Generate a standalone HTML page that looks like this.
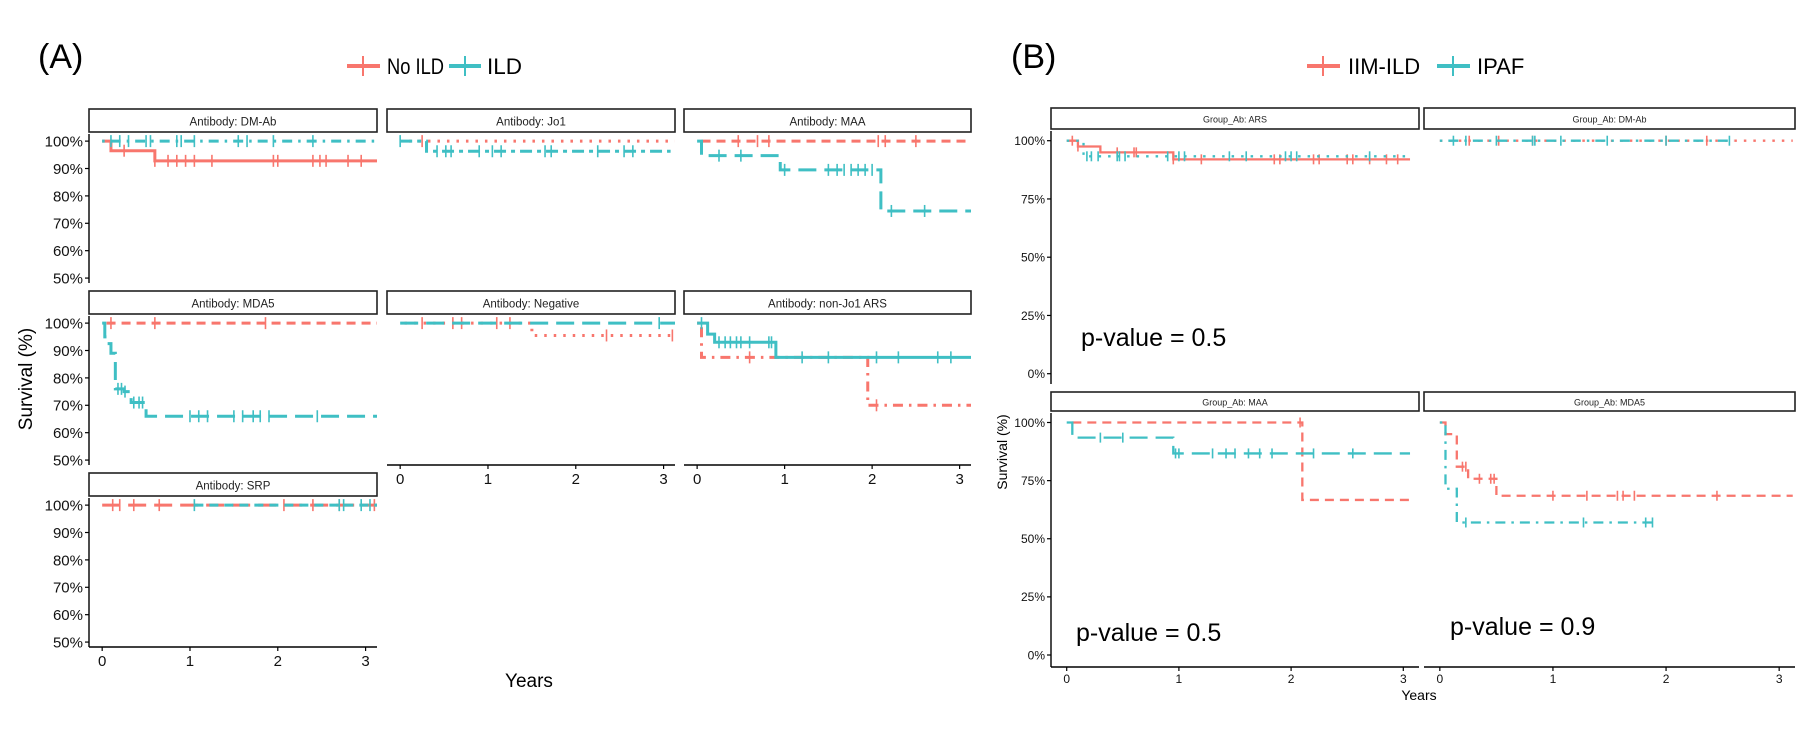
<!DOCTYPE html>
<html><head><meta charset="utf-8"><style>
html,body{margin:0;padding:0;background:#fff;}
svg{display:block;font-family:"Liberation Sans",Arial,sans-serif;}
</style></head><body>
<svg id="chart" width="1820" height="756" viewBox="0 0 1820 756" xmlns="http://www.w3.org/2000/svg">
<text x="38" y="68" font-size="34">(A)</text>
<text x="1011" y="68" font-size="34">(B)</text>
<g>
<line x1="347" y1="66" x2="380" y2="66" stroke="#F8766D" stroke-width="4"/><line x1="363" y1="56" x2="363" y2="76" stroke="#F8766D" stroke-width="2"/>
<text x="387" y="74" font-size="22" textLength="57" lengthAdjust="spacingAndGlyphs">No ILD</text>
<line x1="449" y1="66" x2="481" y2="66" stroke="#3FBFC4" stroke-width="4"/><line x1="465" y1="56" x2="465" y2="76" stroke="#3FBFC4" stroke-width="2"/>
<text x="487" y="74" font-size="22" textLength="35" lengthAdjust="spacingAndGlyphs">ILD</text>
</g>
<g>
<line x1="1307" y1="66" x2="1340" y2="66" stroke="#F8766D" stroke-width="4"/><line x1="1323" y1="56" x2="1323" y2="76" stroke="#F8766D" stroke-width="2"/>
<text x="1348" y="74" font-size="22">IIM-ILD</text>
<line x1="1437" y1="66" x2="1470" y2="66" stroke="#3FBFC4" stroke-width="4"/><line x1="1453" y1="56" x2="1453" y2="76" stroke="#3FBFC4" stroke-width="2"/>
<text x="1477" y="74" font-size="22">IPAF</text>
</g>
<text x="529" y="687" font-size="19" text-anchor="middle">Years</text>
<text transform="translate(32,379) rotate(-90)" font-size="19" text-anchor="middle">Survival (%)</text>
<text x="1419" y="700" font-size="14" text-anchor="middle">Years</text>
<text transform="translate(1007,452) rotate(-90)" font-size="14" text-anchor="middle">Survival (%)</text>
<text x="1081" y="346" font-size="25">p-value = 0.5</text>
<text x="1076" y="641" font-size="25">p-value = 0.5</text>
<text x="1450" y="635" font-size="25">p-value = 0.9</text>
</svg>
<script>
const aTicksY = [50,60,70,80,90,100];
const aTicksYLabels = ["50%","60%","70%","80%","90%","100%"];
const bTicksY = [0,25,50,75,100];
const bTicksYLabels = ["0%","25%","50%","75%","100%"];
const ticksX = [0,1,2,3];

const dmRedT=[0,0.1,0.6], dmRedS=[100,96.5,92.8], dmRedC=[0.25,0.6,0.75,0.85,0.95,1.05,1.25,1.95,2.0,2.4,2.48,2.55,2.8,2.95], dmRedE=3.13;
const dmTealT=[0], dmTealS=[100], dmTealC=[0.1,0.2,0.3,0.5,0.55,0.85,0.9,1.05,1.55,1.65,1.95,2.4], dmTealE=3.13;
const jo1RedT=[0.1], jo1RedS=[100], jo1RedC=[0.25], jo1RedE=3.13;
const jo1TealT=[0,0.3], jo1TealS=[100,96.3], jo1TealC=[0.0,0.42,0.52,0.58,0.9,1.05,1.15,1.65,1.72,2.25,2.55,2.65], jo1TealE=3.08;
const maaRedT=[0.05], maaRedS=[100], maaRedC=[0.47,0.69,0.82,2.07,2.15,2.5], maaRedE=3.13;
const maaTealT=[0,0.05,0.95,2.1], maaTealS=[100,94.7,89.5,74.5], maaTealC=[0.25,0.5,1.0,1.5,1.6,1.68,1.76,1.84,1.92,2.0,2.22,2.6], maaTealE=3.13;
const mdaRedT=[0.05], mdaRedS=[100], mdaRedC=[0.1,0.6,1.86], mdaRedE=3.13;
const mdaTealT=[0,0.03,0.06,0.1,0.15,0.25,0.33,0.5], mdaTealS=[100,95,92.5,89,76,75,71,66], mdaTealC=[0.18,0.22,0.26,0.36,0.42,0.46,1.0,1.1,1.2,1.5,1.6,1.72,1.8,1.9,2.45], mdaTealE=3.13;
const negRedT=[0.05,1.5], negRedS=[100,95.5], negRedC=[0.25,0.6,0.7,1.1,1.25,2.35,3.1], negRedE=3.13;
const negTealT=[0], negTealS=[100], negTealC=[2.95], negTealE=3.13;
const arsRedT=[0,0.05,1.95], arsRedS=[100,87.5,70], arsRedC=[0.6,2.05], arsRedE=3.13;
const arsTealT=[0,0.12,0.2,0.9], arsTealS=[100,96,93,87.5], arsTealC=[0.05,0.25,0.32,0.38,0.45,0.5,0.6,0.82,0.85,1.2,1.5,2.05,2.3,2.75,2.9], arsTealE=3.13;
const srpRedT=[0], srpRedS=[100], srpRedC=[0.12,0.2,0.36,0.65,2.07,2.4,2.7,3.1], srpRedE=3.13;
const srpTealT=[1.05], srpTealS=[100], srpTealC=[1.05,2.7,2.75,2.95,3.05], srpTealE=3.13;

const bArsRedT=[0,0.1,0.3,0.95], bArsRedS=[100,97.5,95,92], bArsRedC=[0.05,0.1,0.45,0.6,0.62,0.95,1.2,1.85,1.9,2.2,2.25,2.5,2.55,2.7,2.85,2.95], bArsRedE=3.06;
const bArsTealT=[0,0.15], bArsTealS=[100,93.3], bArsTealC=[0.18,0.22,0.28,0.45,0.47,0.52,0.9,1.0,1.05,1.45,1.6,1.95,2.0,2.05,2.7], bArsTealE=3.06;
const bDmRedT=[0], bDmRedS=[100], bDmRedC=[0.26,0.52,0.82,2.0,2.36], bDmRedE=3.12;
const bDmTealT=[0], bDmTealS=[100], bDmTealC=[0.12,0.23,0.5,0.82,0.84,1.07,1.48,2.0,2.56], bDmTealE=2.6;
const bMaaRedT=[0.05,2.1], bMaaRedS=[100,66.7], bMaaRedC=[2.08], bMaaRedE=3.06;
const bMaaTealT=[0,0.05,0.95], bMaaTealS=[100,93.5,86.7], bMaaTealC=[0.3,0.5,0.97,1.0,1.3,1.42,1.5,1.62,1.72,1.83,2.2,2.55], bMaaTealE=3.06;
const bMdaRedT=[0,0.05,0.15,0.25,0.5], bMdaRedS=[100,95,81,75.8,68.5], bMdaRedC=[0.2,0.23,0.35,0.45,0.48,1.0,1.3,1.57,1.62,1.72,2.45], bMdaRedE=3.12;
const bMdaTealT=[0,0.05,0.15], bMdaTealS=[100,71.5,57], bMdaTealC=[0.23,1.27,1.82,1.88], bMdaTealE=1.92;

const RED="#F8766D", TEAL="#3FBFC4";
const DASH={solid:"",dashed:"9,6",dotted:"2.5,7",dashdot:"2.5,6,10,6",longdash:"18,8",twodash:"12,5,4,5"};
const svg=document.getElementById('chart');
const NS="http://www.w3.org/2000/svg";
function mk(tag,attrs,parent){const e=document.createElementNS(NS,tag);for(const k in attrs)e.setAttribute(k,attrs[k]);(parent||svg).appendChild(e);return e;}

function panel(o){
  const g=mk('g',{});
  
  
  const sx=t=>o.x0+(t-o.xmin)/(o.xmax-o.xmin)*(o.x1-o.x0);
  const sy=v=>o.y1-(v-o.ymin)/(o.ymax-o.ymin)*(o.y1-o.y0);
  const st=mk('rect',{x:o.x0,y:o.sy0,width:o.x1-o.x0,height:o.y0-o.sy0-2,fill:"#fff",stroke:"#222","stroke-width":1.6},g);
  
  
  const stt=mk('text',{x:(o.x0+o.x1)/2,y:(o.sy0+o.y0)/2+o.sf*0.35,"font-size":o.sf,"text-anchor":"middle",fill:"#222"},g);
  stt.textContent=o.title;
  
  
  if(o.yaxis){
    const ax=mk('line',{x1:o.x0,y1:o.y0,x2:o.x0,y2:o.y1,stroke:"#000","stroke-width":1.4},g);
    
    
    o.yt.forEach((v,i)=>{
      mk('line',{x1:o.x0-4,y1:sy(v),x2:o.x0,y2:sy(v),stroke:"#000","stroke-width":1.2},g);
      const t=mk('text',{x:o.x0-6,y:sy(v)+o.tf*0.36,"font-size":o.tf,"text-anchor":"end",fill:"#111"},g);
      t.textContent=o.yl[i];
      
      
    });
  }
  if(o.xaxis){
    const ax=mk('line',{x1:o.x0,y1:o.y1,x2:o.x1,y2:o.y1,stroke:"#000","stroke-width":1.4},g);
    
    
    ticksX.forEach(v=>{
      mk('line',{x1:sx(v),y1:o.y1,x2:sx(v),y2:o.y1+4,stroke:"#000","stroke-width":1.2},g);
      const t=mk('text',{x:sx(v),y:o.y1+6+o.tf*0.85,"font-size":o.tf,"text-anchor":"middle",fill:"#111"},g);
      t.textContent=v;
      
      
    });
  }
  o.series.forEach(s=>{
    let d="M"+sx(s.t[0])+","+sy(s.s[0]);
    for(let i=1;i<s.t.length;i++){d+=" H"+sx(s.t[i])+" V"+sy(s.s[i]);}
    d+=" H"+sx(s.e);
    const p=mk('path',{d:d,fill:"none",stroke:s.col,"stroke-width":o.lw,"stroke-dasharray":DASH[s.lt]},g);
    
    
    s.c.forEach(c=>{
      let v=s.s[0];for(let i=0;i<s.t.length;i++){if(c>=s.t[i])v=s.s[i];}
      const m=mk('line',{x1:sx(c),y1:sy(v)-o.ch,x2:sx(c),y2:sy(v)+o.ch,stroke:s.col,"stroke-width":1.6},g);
      
      
    });
  });
}
function S(name,col,lt,t,s,c,e){return {name,col,lt,t,s,c,e};}
const AX=[[89,377],[387,675],[684,971]];
const AR=[{sy0:109,y0:134,y1:283},{sy0:291,y0:316,y1:465},{sy0:473,y0:498,y1:647}];
const AYmin=48.2, AYmax=102.6;
function aPanel(r,c,name,title,series,xaxis){
  panel({name,title,series,x0:AX[c][0],x1:AX[c][1],sy0:AR[r].sy0,y0:AR[r].y0,y1:AR[r].y1,
    xmin:-0.15,xmax:3.13,ymin:AYmin,ymax:AYmax,yaxis:c===0,xaxis,yt:aTicksY,yl:aTicksYLabels,
    tf:15,sf:11.5,lw:3,ch:6});
}
aPanel(0,0,'panel-dm-ab','Antibody: DM-Ab',[S('no-ild-dm-ab',RED,'solid',dmRedT,dmRedS,dmRedC,dmRedE),S('ild-dm-ab',TEAL,'dashdot',dmTealT,dmTealS,dmTealC,dmTealE)],false);
aPanel(0,1,'panel-jo1','Antibody: Jo1',[S('no-ild-jo1',RED,'dotted',jo1RedT,jo1RedS,jo1RedC,jo1RedE),S('ild-jo1',TEAL,'twodash',jo1TealT,jo1TealS,jo1TealC,jo1TealE)],false);
aPanel(0,2,'panel-maa','Antibody: MAA',[S('no-ild-maa',RED,'dashed',maaRedT,maaRedS,maaRedC,maaRedE),S('ild-maa',TEAL,'longdash',maaTealT,maaTealS,maaTealC,maaTealE)],false);
aPanel(1,0,'panel-mda5','Antibody: MDA5',[S('no-ild-mda5',RED,'dashed',mdaRedT,mdaRedS,mdaRedC,mdaRedE),S('ild-mda5',TEAL,'longdash',mdaTealT,mdaTealS,mdaTealC,mdaTealE)],false);
aPanel(1,1,'panel-negative','Antibody: Negative',[S('no-ild-negative',RED,'dotted',negRedT,negRedS,negRedC,negRedE),S('ild-negative',TEAL,'longdash',negTealT,negTealS,negTealC,negTealE)],true);
aPanel(1,2,'panel-non-jo1-ars','Antibody: non-Jo1 ARS',[S('no-ild-non-jo1',RED,'dashdot',arsRedT,arsRedS,arsRedC,arsRedE),S('ild-non-jo1',TEAL,'solid',arsTealT,arsTealS,arsTealC,arsTealE)],true);
aPanel(2,0,'panel-srp','Antibody: SRP',[S('no-ild-srp',RED,'longdash',srpRedT,srpRedS,srpRedC,srpRedE),S('ild-srp',TEAL,'dashed',srpTealT,srpTealS,srpTealC,srpTealE)],true);
const BX=[[1051,1419],[1424,1795]];
const BR=[{sy0:108,y0:131,y1:384},{sy0:392,y0:413,y1:667}];
function bPanel(r,c,name,title,series,xaxis){
  const y100=[140.7,422.5][r], y0p=[373.7,655][r], k=(y0p-y100)/100;
  panel({name,title,series,x0:BX[c][0],x1:BX[c][1],sy0:BR[r].sy0,y0:BR[r].y0,y1:BR[r].y1,
    xmin:-0.14,xmax:3.14,ymin:-(BR[r].y1-y0p)/k,ymax:100+(y100-BR[r].y0)/k,yaxis:c===0,xaxis,yt:bTicksY,yl:bTicksYLabels,
    tf:12,sf:9,lw:2.3,ch:5});
}
bPanel(0,0,'panel-b-ars','Group_Ab: ARS',[S('iim-ild-ars',RED,'solid',bArsRedT,bArsRedS,bArsRedC,bArsRedE),S('ipaf-ars',TEAL,'dotted',bArsTealT,bArsTealS,bArsTealC,bArsTealE)],false);
bPanel(0,1,'panel-b-dm-ab','Group_Ab: DM-Ab',[S('iim-ild-dm-ab',RED,'dotted',bDmRedT,bDmRedS,bDmRedC,bDmRedE),S('ipaf-dm-ab',TEAL,'dashdot',bDmTealT,bDmTealS,bDmTealC,bDmTealE)],false);
bPanel(1,0,'panel-b-maa','Group_Ab: MAA',[S('iim-ild-maa',RED,'dashed',bMaaRedT,bMaaRedS,bMaaRedC,bMaaRedE),S('ipaf-maa',TEAL,'longdash',bMaaTealT,bMaaTealS,bMaaTealC,bMaaTealE)],true);
bPanel(1,1,'panel-b-mda5','Group_Ab: MDA5',[S('iim-ild-mda5',RED,'dashed',bMdaRedT,bMdaRedS,bMdaRedC,bMdaRedE),S('ipaf-mda5',TEAL,'dashdot',bMdaTealT,bMdaTealS,bMdaTealC,bMdaTealE)],true);
</script>
</body></html>
